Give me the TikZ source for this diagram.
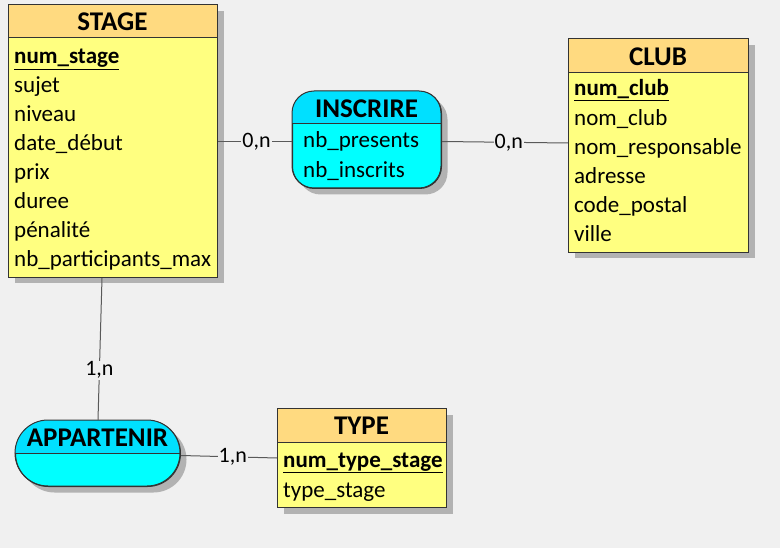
\documentclass[tikz,border=0pt]{standalone}
\usepackage{fontspec}
\setmainfont{Carlito}
\usetikzlibrary{shadows}
\definecolor{fond}{HTML}{F0F0F0}
\definecolor{jaune}{HTML}{FFFF80}
\definecolor{orangeclair}{HTML}{FFDA80}
\definecolor{cyanclair}{HTML}{00FFFF}
\definecolor{cyanfonce}{HTML}{00E0FF}
\tikzstyle{entite}=[rectangle,anchor=north west,inner sep=0,draw=black!80,line width=1pt,fill=jaune,drop shadow={shadow xshift=6pt,shadow yshift=-6pt,fill=black!30,opacity=1}]
\tikzstyle{relation}=[entite,fill=cyanclair,rounded corners=22pt]
\tikzstyle{titre}=[font=\fontsize{27}{32}\selectfont\bfseries,inner sep=0]
\tikzstyle{attr}=[anchor=base west,inner sep=0,font=\fontsize{23}{28}\selectfont]
\tikzstyle{lien}=[draw=black!65,line width=1pt]
\tikzstyle{card}=[fill=fond,inner sep=1pt,font=\fontsize{22}{26}\selectfont]

\begin{document}
\begin{tikzpicture}[x=1pt,y=-1pt]
\fill[fond] (0,0) rectangle (780,548);
\useasboundingbox (0,0) rectangle (780,548);

% entite STAGE
\node[entite,minimum width=209,minimum height=272] (stage) at (8,5) {};
\draw[fill=orangeclair,draw=black!80,line width=1pt] (8,5) rectangle (217,38);
\node[titre] at (112.5,22) {STAGE};
\node[attr] at (14,64) {\textbf{\underline{num\_stage}}};
\foreach \a [count=\i] in {sujet,niveau,date\_début,prix,duree,pénalité,nb\_participants\_max}
  \node[attr] at (14,64+29*\i) {\a};

% entite CLUB
\node[entite,minimum width=180,minimum height=213] (club) at (568,39) {};
\draw[fill=orangeclair,draw=black!80,line width=1pt] (568,39) rectangle (748,73);
\node[titre] at (658,57) {CLUB};
\node[attr] at (574,96) {\textbf{\underline{num\_club}}};
\foreach \a [count=\i] in {nom\_club,nom\_responsable,adresse,code\_postal,ville}
  \node[attr] at (574,96+29.2*\i) {\a};

% entite TYPE
\node[entite,minimum width=169,minimum height=99] (type) at (277,408) {};
\draw[fill=orangeclair,draw=black!80,line width=1pt] (277,408) rectangle (446,442);
\node[titre] at (361.5,426) {TYPE};
\node[attr] at (283,467) {\textbf{\underline{num\_type\_stage}}};
\node[attr] at (283,497) {type\_stage};

% association INSCRIRE
\node[relation,minimum width=149,minimum height=97] (inscrire) at (292,91) {};
\begin{scope}
\clip (280,80) rectangle (460,124);
\fill[cyanfonce,rounded corners=22pt] (292,91) rectangle (441,188);
\end{scope}
\draw[draw=black!80,line width=1pt,rounded corners=22pt] (292,91) rectangle (441,188);
\draw[draw=black!80,line width=1pt] (292,124) -- (441,124);
\node[titre] at (366.5,109) {INSCRIRE};
\node[attr] at (303,148) {nb\_presents};
\node[attr] at (303,178) {nb\_inscrits};

% association APPARTENIR
\node[relation,minimum width=165,minimum height=66,rounded corners=33pt] (appartenir) at (15,420) {};
\begin{scope}
\clip (5,410) rectangle (190,453);
\fill[cyanfonce,rounded corners=33pt] (15,420) rectangle (180,486);
\end{scope}
\draw[draw=black!80,line width=1pt,rounded corners=33pt] (15,420) rectangle (180,486);
\draw[draw=black!80,line width=1pt] (15,453) -- (180,453);
\node[titre] at (97.5,438) {APPARTENIR};

% liens
\draw[lien] (stage.east) -- node[card,pos=0.52]{0,n} (inscrire.west |- stage.east);
\draw[lien] (inscrire.east |- stage.east) -- node[card,pos=0.53]{0,n} ([yshift=3pt]club.west);
\draw[lien] ([xshift=-11pt]stage.south) -- node[card,pos=0.65]{1,n} (appartenir.north);
\draw[lien] ([yshift=-2pt]appartenir.east) -- node[card,pos=0.54]{1,n} (type.west);
\end{tikzpicture}
\end{document}
